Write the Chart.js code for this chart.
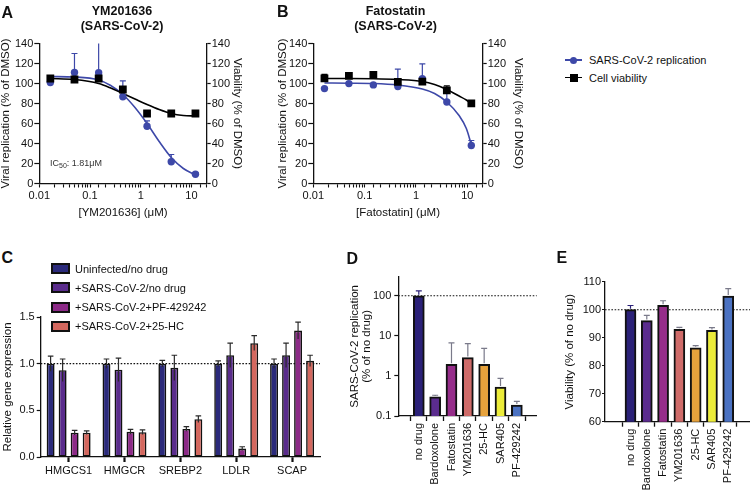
<!DOCTYPE html>
<html><head><meta charset="utf-8">
<script src="https://cdn.jsdelivr.net/npm/chart.js@4.4.1/dist/chart.umd.min.js"></script>
<style>
html,body{margin:0;padding:0;background:#fff;}
body{width:750px;height:493px;position:relative;overflow:hidden;font-family:"Liberation Sans",Arial,Helvetica,sans-serif;color:#111;}
canvas{position:absolute;}
.t{position:absolute;white-space:nowrap;line-height:1;transform:translateY(-50%);}
.c{transform:translate(-50%,-50%);}
.lt{font-weight:bold;font-size:16px;}
.ti{font-weight:bold;font-size:12.5px;}
.lg{font-size:11px;}
.box{position:absolute;box-sizing:border-box;border:2px solid #111;width:19px;height:11px;}
</style></head><body>

<canvas id="cA" width="250" height="230" style="left:0;top:0"></canvas>
<canvas id="cB" width="280" height="230" style="left:250px;top:0"></canvas>
<canvas id="cC" width="345" height="193" style="left:0;top:300px"></canvas>
<canvas id="cD" width="205" height="238" style="left:340px;top:255px"></canvas>
<canvas id="cE" width="205" height="238" style="left:545px;top:255px"></canvas>

<div class="t lt" style="left:1.5px;top:12.8px">A</div>
<div class="t lt" style="left:277px;top:11.7px">B</div>
<div class="t lt" style="left:1.5px;top:257.5px">C</div>
<div class="t lt" style="left:346.5px;top:258.5px">D</div>
<div class="t lt" style="left:556.5px;top:257.5px">E</div>

<div class="t ti c" style="left:122px;top:11px">YM201636</div>
<div class="t ti c" style="left:122px;top:26px">(SARS-CoV-2)</div>
<div class="t ti c" style="left:395.5px;top:11px">Fatostatin</div>
<div class="t ti c" style="left:395.5px;top:26px">(SARS-CoV-2)</div>

<div class="t" style="left:50px;top:164px;font-size:9px;color:#333">IC<sub style="font-size:7px;vertical-align:-2px">50</sub>: 1.81μM</div>

<!-- legend A/B -->
<div style="position:absolute;left:565px;top:59.3px;width:17px;height:1.5px;background:#3d48a8"></div>
<div style="position:absolute;left:570px;top:56.5px;width:7px;height:7px;border-radius:50%;background:#3d48a8"></div>
<div class="t lg" style="left:589px;top:60px">SARS-CoV-2 replication</div>
<div style="position:absolute;left:565px;top:76.8px;width:17px;height:1.5px;background:#000"></div>
<div style="position:absolute;left:570px;top:74px;width:7.5px;height:7.5px;background:#000"></div>
<div class="t lg" style="left:589px;top:77.5px">Cell viability</div>

<!-- legend C -->
<div id="legC"></div>

<script>
// ---------- data ----------
const doseConc = [0.0165, 0.0494, 0.148, 0.444, 1.333, 4, 12];
const fitConcA = [0.0165, 0.0494, 0.148, 0.256, 0.444, 0.77, 1.333, 2.31, 4, 6.93, 12];
const ymReplication = [101, 111, 110.7, 86.7, 57.3, 21.7, 9.3];
const ymReplicationErr = [1, 19, 35, 16, 5.4, 7.3, 1.5];
const ymViability = [105, 104, 105, 94, 70, 70, 70];
const ymViabilityErr = [1, 1, 1, 2, 1, 1, 1];
const ymReplicationFit = [107, 106.5, 103.5, 98, 89, 76, 60, 42, 26, 15, 8.5];
const ymViabilityFit = [105, 104, 100, 95.5, 90, 84.5, 79, 74, 70, 68, 67.5];

const fitConcB = [0.0165, 0.0494, 0.148, 0.444, 1.333, 2.31, 4, 6.93, 9.6, 12];
const fatoReplication = [94.9, 99.9, 98.6, 96.9, 104.7, 81.5, 38];
const fatoReplicationErr = [1, 1, 1, 17.4, 15, 10, 5];
const fatoViability = [105.2, 107.6, 108.6, 101.6, 101.9, 93.2, 80.2];
const fatoViabilityErr = [4, 2.5, 1, 1, 1, 4.5, 1];
const fatoReplicationFit = [100.5, 100.3, 100, 98.5, 94.5, 90, 81.5, 68, 55, 39];
const fatoViabilityFit = [105, 105, 104.8, 104, 102, 99, 94, 87.5, 83.5, 80];

const xDecadeLabels = ['0.01', '0.1', '1', '10'];
const abYTicks = [0, 20, 40, 60, 80, 100, 120, 140];

const genes = ['HMGCS1', 'HMGCR', 'SREBP2', 'LDLR', 'SCAP'];
const cSeriesNames = ['Uninfected/no drug', '+SARS-CoV-2/no drug', '+SARS-CoV-2+PF-429242', '+SARS-CoV-2+25-HC'];
const cUninfected = [1.0, 1.0, 1.0, 1.0, 1.0];
const cUninfectedErr = [0.08, 0.05, 0.035, 0.03, 0.05];
const cInfected = [0.93, 0.935, 0.955, 1.09, 1.09];
const cInfectedErr = [0.12, 0.125, 0.135, 0.13, 0.13];
const cPF = [0.26, 0.27, 0.30, 0.09, 1.355];
const cPFErr = [0.025, 0.025, 0.025, 0.02, 0.09];
const c25HC = [0.26, 0.265, 0.405, 1.22, 1.03];
const c25HCErr = [0.02, 0.025, 0.035, 0.08, 0.06];
const cRef = 1.0;

const drugs = ['no drug', 'Bardoxolone', 'Fatostatin', 'YM201636', '25-HC', 'SAR405', 'PF-429242'];
const dReplication = [100, 0.30, 1.96, 2.87, 1.96, 0.53, 0.188];
const dReplicationErr = [33, 0.03, 4.7, 3.5, 2.9, 0.34, 0.045];
const dTicks = [0.1, 1, 10, 100];
const dRef = 100;

const eViability = [100, 96.1, 101.6, 93.0, 86.4, 92.6, 104.9];
const eViabilityErr = [1.5, 1.9, 1.6, 0.7, 0.8, 1.0, 2.6];
const eRef = 100;

// ---------- styles ----------
const BLUE = '#3d48a8';
const cColors = ['#2b2a7b', '#5a2c8c', '#8c2a87', '#d4685f'];
const drugColors = ['#2b2178', '#5b2c8e', '#962d8a', '#cf6b69', '#e6a23c', '#ecec3a', '#4b72c2'];
const INK = '#111';

Chart.defaults.font.family = '"Liberation Sans", Arial, Helvetica, sans-serif';
Chart.defaults.font.size = 11;
Chart.defaults.color = INK;
Chart.defaults.animation = false;
Chart.defaults.plugins.legend.display = false;
Chart.defaults.plugins.tooltip.enabled = false;

// C legend (HTML)
const legC = document.getElementById('legC');
const legRows = [268.5, 287.8, 307, 326.3];
cSeriesNames.forEach((n, i) => {
  const b = document.createElement('div');
  b.className = 'box';
  b.style.left = '50.7px'; b.style.top = (legRows[i] - 5.5) + 'px'; b.style.background = cColors[i];
  legC.appendChild(b);
  const t = document.createElement('div');
  t.className = 't lg'; t.style.left = '75px'; t.style.top = legRows[i] + 'px';
  t.textContent = n;
  legC.appendChild(t);
});

// ---------- plugins ----------
function drawErrors(chart) {
  const {ctx, chartArea} = chart;
  chart.data.datasets.forEach((ds, di) => {
    if (!ds.errors) return;
    const meta = chart.getDatasetMeta(di);
    const yScale = chart.scales[meta.yAxisID];
    ctx.save();
    ctx.beginPath();
    ctx.rect(chartArea.left - 10, chartArea.top, chartArea.right - chartArea.left + 20, chartArea.bottom - chartArea.top);
    ctx.clip();
    ctx.strokeStyle = ds.errColor || INK;
    ctx.lineWidth = ds.errWidth || 1.2;
    meta.data.forEach((el, i) => {
      const raw = ds.data[i];
      const v = (typeof raw === 'object') ? raw.y : raw;
      const e = ds.errors[i];
      const yTop = yScale.getPixelForValue(v + e);
      const yBot = ds.errBoth ? yScale.getPixelForValue(v - e) : yScale.getPixelForValue(v);
      const cap = ds.capHalf || 3;
      ctx.beginPath();
      ctx.moveTo(el.x, yBot); ctx.lineTo(el.x, yTop);
      ctx.moveTo(el.x - cap, yTop); ctx.lineTo(el.x + cap, yTop);
      ctx.stroke();
    });
    ctx.restore();
  });
}
const errorsUnder = { id: 'errorsUnder', beforeDatasetsDraw: (c) => drawErrors(c) };
const errorsOver = { id: 'errorsOver', afterDatasetsDraw: (c) => drawErrors(c) };
const refLine = {
  id: 'refLine',
  beforeDatasetsDraw(chart, args, opts) {
    if (opts.value === undefined) return;
    const {ctx, chartArea} = chart;
    const y = chart.scales.y.getPixelForValue(opts.value);
    ctx.save();
    ctx.strokeStyle = INK; ctx.lineWidth = 1.1; ctx.setLineDash([1.6, 1.6]);
    ctx.beginPath(); ctx.moveTo(chartArea.left, y); ctx.lineTo(chartArea.right, y); ctx.stroke();
    ctx.restore();
  }
};

// ---------- helpers ----------
const fixW = (w) => (s) => { s.width = w; };
const fixH = (h) => (s) => { s.height = h; };
const pts = (xs, ys) => xs.map((x, i) => ({x, y: ys[i]}));
const isDecade = (v) => { const l = Math.log10(v); return Math.abs(l - Math.round(l)) < 1e-9; };
const titleFont = {size: 11.5, lineHeight: 1};
const border = {color: INK, width: 1.3};

function doseChart(id, cfg) {
  return new Chart(document.getElementById(id), {
    type: 'scatter',
    data: { datasets: [
      { label: 'Cell viability', data: pts(doseConc, cfg.via), yAxisID: 'y2', pointStyle: 'rect', pointRadius: 5.5,
        backgroundColor: '#000', borderColor: '#000', borderWidth: 0, errors: cfg.viaErr, errColor: '#000', order: 1 },
      { label: 'SARS-CoV-2 replication', data: pts(doseConc, cfg.rep), yAxisID: 'y', pointStyle: 'circle', pointRadius: 3.7,
        backgroundColor: BLUE, borderColor: BLUE, borderWidth: 0, errors: cfg.repErr, errColor: BLUE, order: 2 },
      { data: pts(cfg.fitX, cfg.viaFit), yAxisID: 'y2', showLine: true, pointRadius: 0, borderColor: '#000',
        borderWidth: 1.6, cubicInterpolationMode: 'monotone', order: 3 },
      { data: pts(cfg.fitX, cfg.repFit), yAxisID: 'y', showLine: true, pointRadius: 0, borderColor: BLUE,
        borderWidth: 1.6, cubicInterpolationMode: 'monotone', order: 4 }
    ]},
    options: {
      responsive: false,
      layout: { padding: cfg.pad },
      scales: {
        x: { type: 'logarithmic', position: 'bottom', min: 0.01, max: 20,
          ticks: { autoSkip: false, maxRotation: 0, minRotation: 0, padding: 2,
            callback: (v) => isDecade(v) && xDecadeLabels.includes(String(v)) ? String(v) : '' },
          grid: { drawOnChartArea: false, tickLength: 4, color: INK, tickWidth: 1.1 },
          border,
          title: { display: true, text: cfg.xTitle, font: titleFont, padding: 0 },
          afterFit: fixH(35.25) },
        y: { type: 'linear', position: 'left', min: 0, max: 140,
          afterBuildTicks: (s) => { s.ticks = abYTicks.map(v => ({value: v})); },
          ticks: { padding: 1 },
          grid: { drawOnChartArea: false, tickLength: 5, color: INK, tickWidth: 1.2 },
          border,
          title: { display: true, text: 'Viral replication (% of DMSO)', font: titleFont, padding: 0 },
          afterFit: fixW(cfg.yW) },
        y2: { type: 'linear', position: 'right', min: 0, max: 140,
          afterBuildTicks: (s) => { s.ticks = abYTicks.map(v => ({value: v})); },
          ticks: { padding: 1 },
          grid: { drawOnChartArea: false, tickLength: 4, color: INK, tickWidth: 1.2 },
          border,
          title: { display: true, text: 'Viability (% of DMSO)', font: titleFont, padding: 0 },
          afterFit: fixW(cfg.y2W) }
      }
    },
    plugins: [errorsUnder]
  });
}

doseChart('cA', { rep: ymReplication, repErr: ymReplicationErr, via: ymViability, viaErr: ymViabilityErr,
  fitX: fitConcA, repFit: ymReplicationFit, viaFit: ymViabilityFit, xTitle: '[YM201636] (μM)',
  pad: {top: 43.5, left: 0, right: 7, bottom: 11.25}, yW: 39.3, y2W: 36.3 });

doseChart('cB', { rep: fatoReplication, repErr: fatoReplicationErr, via: fatoViability, viaErr: fatoViabilityErr,
  fitX: fitConcB, repFit: fatoReplicationFit, viaFit: fatoViabilityFit, xTitle: '[Fatostatin] (μM)',
  pad: {top: 43.5, left: 27.25, right: 6.25, bottom: 11.25}, yW: 36.05, y2W: 41.05 });

// ---------- C ----------
const cVals = [cUninfected, cInfected, cPF, c25HC];
const cErrs = [cUninfectedErr, cInfectedErr, cPFErr, c25HCErr];
new Chart(document.getElementById('cC'), {
  type: 'bar',
  data: { labels: genes, datasets: cVals.map((vals, i) => ({
    label: cSeriesNames[i], data: vals, backgroundColor: cColors[i], borderColor: INK, borderWidth: 1.6,
    borderSkipped: false, categoryPercentage: 0.86, barPercentage: 0.66,
    errors: cErrs[i], errBoth: true, errColor: '#2a2a2a', capHalf: 2.8 })) },
  options: {
    responsive: false,
    layout: { padding: {top: 17, left: 2.55, right: 25, bottom: 0} },
    plugins: { refLine: { value: cRef } },
    scales: {
      x: { ticks: { padding: 2, maxRotation: 0, autoSkip: false },
        grid: { drawOnChartArea: false, offset: false, tickLength: 5, tickWidth: 2.2, color: INK },
        border, afterFit: fixH(36) },
      y: { min: 0, max: 1.5, ticks: { stepSize: 0.5, padding: 2, callback: (v) => v.toFixed(1) },
        grid: { drawOnChartArea: false, tickLength: 4, color: INK, tickWidth: 1.2 },
        border,
        title: { display: true, text: 'Relative gene expression', font: titleFont, padding: 0 },
        afterFit: fixW(38.15) }
    }
  },
  plugins: [refLine, errorsOver]
});

// ---------- D & E ----------
function drugChart(id, cfg) {
  return new Chart(document.getElementById(id), {
    type: 'bar',
    data: { datasets: [{ data: cfg.vals.map((v, i) => ({x: i, y: v})), backgroundColor: drugColors,
      borderColor: INK, borderWidth: 2, borderSkipped: 'bottom', barThickness: 11,
      errors: cfg.errs, errColor: drugColors, capHalf: 3 }] },
    options: {
      responsive: false,
      layout: { padding: cfg.pad },
      plugins: { refLine: { value: cfg.ref } },
      scales: {
        x: { type: 'linear', min: cfg.xMin, max: cfg.xMax,
          afterBuildTicks: (s) => { s.ticks = drugs.map((_, i) => ({value: i})); },
          ticks: { autoSkip: false, minRotation: 90, maxRotation: 90, padding: 2, callback: (v) => drugs[v] },
          grid: { drawOnChartArea: false, tickLength: 5, color: INK, tickWidth: 1.3 },
          border, afterFit: fixH(cfg.xH) },
        y: cfg.y
      }
    },
    plugins: [refLine, {
      id: 'errColorFix',
      afterDatasetsDraw(chart) {
        const {ctx, chartArea} = chart;
        const ds = chart.data.datasets[0];
        const meta = chart.getDatasetMeta(0);
        const ys = chart.scales.y;
        ctx.save();
        ctx.lineWidth = 1.2;
        meta.data.forEach((el, i) => {
          const v = ds.data[i].y, e = ds.errors[i];
          const yTop = ys.getPixelForValue(v + e), yBot = ys.getPixelForValue(v);
          ctx.strokeStyle = i === 0 ? '#2b2178' : '#7a7a8a';
          ctx.beginPath();
          ctx.moveTo(el.x, yBot - 1); ctx.lineTo(el.x, yTop);
          ctx.moveTo(el.x - 3, yTop); ctx.lineTo(el.x + 3, yTop);
          ctx.stroke();
        });
        ctx.restore();
      }
    }]
  });
}

drugChart('cD', { vals: dReplication, errs: dReplicationErr, ref: dRef, xMin: -0.65, xMax: 6.61, xH: 77,
  pad: {top: 21.7, left: 9.25, right: 8.3, bottom: 0},
  y: { type: 'logarithmic', min: 0.1, max: 300,
    afterBuildTicks: (s) => { s.ticks = dTicks.map(v => ({value: v})); },
    ticks: { padding: 3, callback: (v) => String(v) },
    grid: { drawOnChartArea: false, tickLength: 4, color: INK, tickWidth: 1.2 },
    border,
    title: { display: true, text: ['SARS-CoV-2 replication', '(% of no drug)'], font: titleFont, padding: 0 },
    afterFit: fixW(49.05) } });

drugChart('cE', { vals: eViability, errs: eViabilityErr, ref: eRef, xMin: -0.93, xMax: 6.70, xH: 71.3,
  pad: {top: 26.7, left: 19.25, right: 0, bottom: 0},
  y: { type: 'linear', min: 60, max: 110,
    ticks: { stepSize: 10, padding: 1 },
    grid: { drawOnChartArea: false, tickLength: 3, color: INK, tickWidth: 1.2 },
    border,
    title: { display: true, text: 'Viability (% of no drug)', font: titleFont, padding: 0 },
    afterFit: fixW(40.75) } });
</script>
</body></html>
